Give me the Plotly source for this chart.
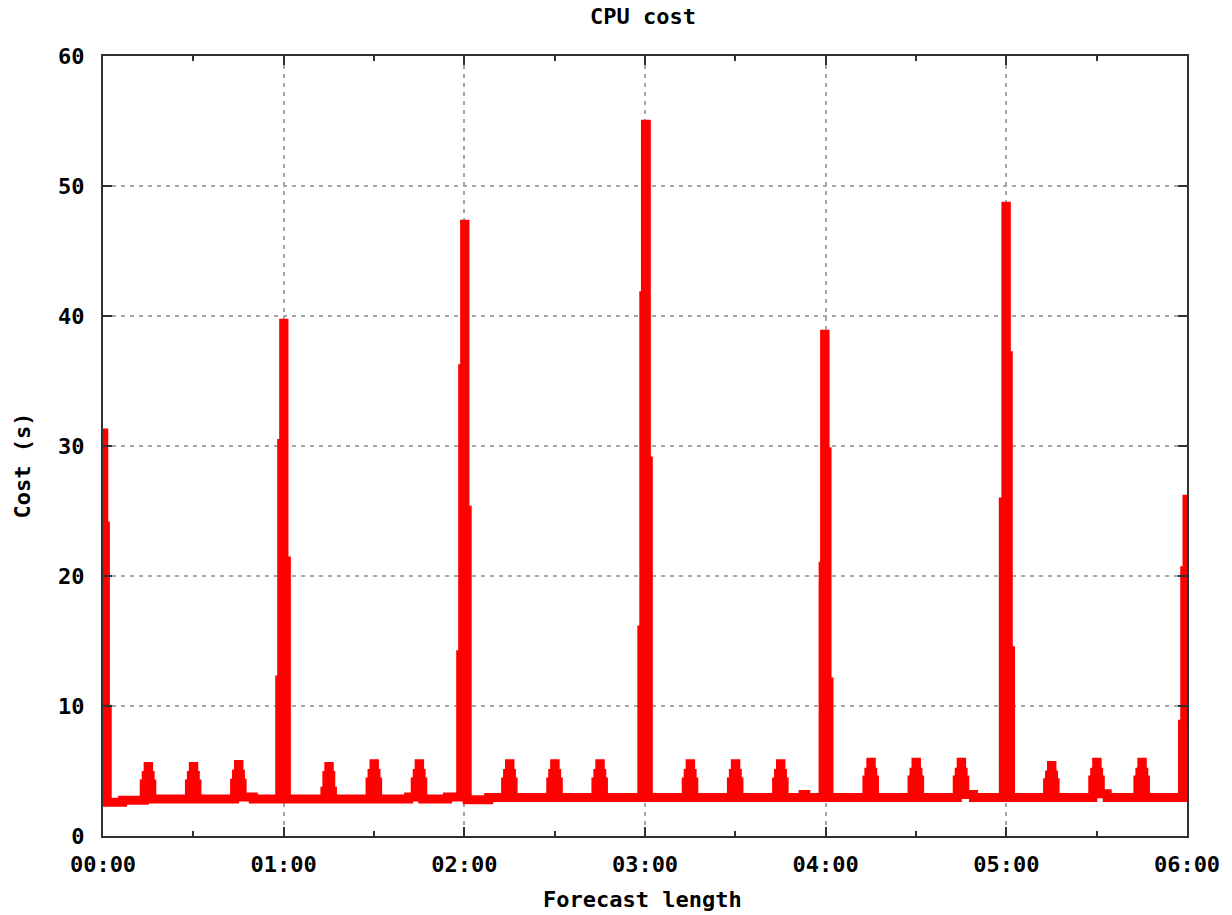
import plotly.graph_objects as go

# Forecast time (minutes) where the step value changes, and CPU cost (s) held from that time on
t_h0 = [0.0, 0.25, 0.8, 1.4, 6.5,
        13.7, 14.35, 15.0, 15.15, 15.65, 16.2,
        28.7, 29.35, 30.0, 30.15, 30.65, 31.2,
        43.7, 44.35, 45.0, 45.15, 45.65, 46.2, 49.9]
v_h0 = [31.0, 23.85, 9.7, 2.6, 2.75,
        4.0, 4.65, 5.35, 4.65, 4.0, 2.85,
        4.0, 4.65, 5.35, 4.65, 4.0, 2.85,
        4.05, 4.75, 5.5, 4.75, 4.05, 3.0, 2.85]

t_h1 = [58.7, 59.35, 60.0, 60.1, 60.9,
        73.7, 74.35, 75.0, 75.15, 75.65, 76.2,
        88.7, 89.35, 90.0, 90.15, 90.65, 91.2,
        101.5, 103.7, 104.35, 105.0, 105.15, 105.65, 106.2,
        114.4]
v_h1 = [12.0, 30.2, 39.45, 21.15, 2.85,
        3.45, 4.65, 5.35, 4.65, 3.45, 2.85,
        4.15, 4.8, 5.55, 4.8, 4.15, 2.85,
        3.0, 4.15, 4.8, 5.55, 4.8, 4.15, 2.85,
        3.0]

t_h2 = [118.8, 119.45, 120.1, 120.2, 120.95, 128.1,
        133.7, 134.35, 135.0, 135.15, 135.65, 136.2,
        148.7, 149.35, 150.0, 150.15, 150.65, 151.2,
        163.7, 164.35, 165.0, 165.15, 165.65, 166.2]
v_h2 = [13.95, 35.95, 47.05, 25.05, 2.78, 2.97,
        4.15, 4.8, 5.55, 4.8, 4.15, 2.97,
        4.15, 4.8, 5.55, 4.8, 4.15, 2.97,
        4.15, 4.8, 5.55, 4.8, 4.15, 2.97]

t_h3 = [178.95, 179.6, 180.15, 180.45, 181.1,
        193.7, 194.35, 195.0, 195.15, 195.65, 196.2,
        208.7, 209.35, 210.0, 210.15, 210.65, 211.2,
        223.7, 224.35, 225.0, 225.15, 225.65, 226.2,
        232.5, 233.4]
v_h3 = [15.85, 41.55, 54.75, 28.85, 2.97,
        4.15, 4.8, 5.55, 4.8, 4.15, 2.97,
        4.15, 4.8, 5.55, 4.8, 4.15, 2.97,
        4.15, 4.8, 5.55, 4.8, 4.15, 2.97,
        3.2, 2.97]

t_h4 = [239.15, 239.65, 239.8, 240.45, 241.1,
        253.7, 254.35, 255.0, 255.15, 255.65, 256.2,
        268.7, 269.35, 270.0, 270.15, 270.65, 271.2,
        283.7, 284.35, 285.0, 285.15, 285.65, 286.2, 289.1]
v_h4 = [20.75, 38.6, 29.55, 11.85, 2.97,
        4.3, 4.9, 5.68, 4.9, 4.3, 2.97,
        4.3, 4.9, 5.68, 4.9, 4.3, 2.97,
        4.3, 4.9, 5.68, 4.9, 4.3, 3.2, 2.97]

t_h5 = [299.0, 299.85, 300.0, 300.65, 301.4,
        313.7, 314.35, 315.0, 315.15, 315.65, 316.2,
        328.7, 329.35, 330.0, 330.15, 330.65, 331.2, 333.5,
        343.7, 344.35, 345.0, 345.15, 345.65, 346.2,
        358.5, 359.25, 360.0]
v_h5 = [25.7, 48.45, 36.95, 14.25, 2.97,
        4.1, 4.7, 5.42, 4.7, 4.1, 2.97,
        4.3, 4.9, 5.68, 4.9, 4.3, 3.25, 2.97,
        4.3, 4.9, 5.68, 4.9, 4.3, 2.97,
        8.6, 20.4, 26.25]

x_tick_vals = [0, 60, 120, 180, 240, 300, 360]
x_tick_text = ["00:00", "01:00", "02:00", "03:00", "04:00", "05:00", "06:00"]
x_minor_vals = [30, 90, 150, 210, 270, 330]
y_tick_vals = [0, 10, 20, 30, 40, 50, 60]

times = t_h0 + t_h1 + t_h2 + t_h3 + t_h4 + t_h5
costs = v_h0 + v_h1 + v_h2 + v_h3 + v_h4 + v_h5

FONT = "DejaVu Sans Mono"
AX = "#303030"
GRID = "#a6a6a6"

fig = go.Figure()
fig.add_trace(go.Scatter(
    x=times, y=costs, mode="lines",
    line=dict(color="#ff0000", width=9, shape="hv", simplify=False),
    cliponaxis=False, showlegend=False, hoverinfo="skip",
))

axis_common = dict(
    showline=True, linecolor=AX, linewidth=2, mirror="allticks",
    ticks="inside", ticklen=9, tickwidth=2, tickcolor=AX,
    showgrid=True, gridcolor=GRID, gridwidth=1.5, griddash="4px,5px",
    zeroline=False,
    tickfont=dict(family=FONT, size=22, color="#000000", weight="bold"),
)

fig.update_xaxes(
    range=[0, 360], tickmode="array", tickvals=x_tick_vals, ticktext=x_tick_text,
    minor=dict(tickmode="array", tickvals=x_minor_vals, ticks="inside", ticklen=5,
               tickwidth=2, tickcolor=AX, showgrid=False),
    ticklabelstandoff=8,
    **axis_common,
)
fig.update_yaxes(
    range=[0, 60], tickmode="array", tickvals=y_tick_vals,
    ticklabelstandoff=12,
    **axis_common,
)

lab_font = dict(family=FONT, size=22, color="#000000", weight="bold")
fig.update_layout(
    width=1232, height=915,
    margin=dict(l=103, r=40, t=56, b=79),
    paper_bgcolor="#ffffff", plot_bgcolor="#ffffff",
    annotations=[
        dict(text="CPU cost", x=0.498, y=1.05, xref="paper", yref="paper",
             showarrow=False, font=lab_font, xanchor="center", yanchor="middle"),
        dict(text="Forecast length", x=0.498, y=-0.082, xref="paper", yref="paper",
             showarrow=False, font=lab_font, xanchor="center", yanchor="middle"),
        dict(text="Cost (s)", x=-0.0744, y=0.4756, xref="paper", yref="paper",
             showarrow=False, font=lab_font, textangle=-90,
             xanchor="center", yanchor="middle"),
    ],
)

fig.write_html("out.html",
               config={"displayModeBar": False},
               post_script="document.body.style.margin='0';document.body.style.overflow='hidden';")
